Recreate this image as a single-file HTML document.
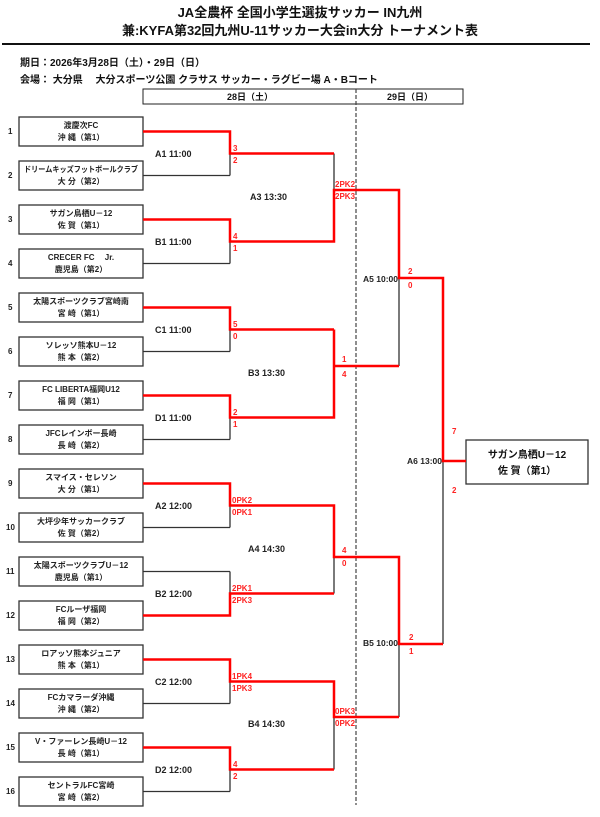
<!DOCTYPE html>
<html><head><meta charset="utf-8"><style>
html,body{margin:0;padding:0;background:#fff;}
svg{display:block;font-family:"Liberation Sans","Noto Sans CJK JP",sans-serif;}
.t{font-size:8px;font-weight:bold;fill:#222;text-anchor:middle;}
.n{font-size:8px;font-weight:bold;fill:#222;}
.g{font-size:9px;font-weight:bold;fill:#222;}
.s{font-size:8px;font-weight:bold;fill:#f22;}
.b{stroke:#333;stroke-width:1.3;fill:none;}
.r{stroke:#f00;stroke-width:2.5;fill:none;}
</style></head><body>
<svg width="600" height="817" viewBox="0 0 600 817">
<text x="300" y="17" font-size="13" font-weight="bold" text-anchor="middle" fill="#111">JA全農杯 全国小学生選抜サッカー IN九州</text>
<text x="300" y="35" font-size="13" font-weight="bold" text-anchor="middle" fill="#111">兼:KYFA第32回九州U-11サッカー大会in大分 トーナメント表</text>
<line x1="2" y1="44" x2="590" y2="44" stroke="#111" stroke-width="2"/>
<text x="20" y="66" font-size="10" font-weight="bold" fill="#111">期日：2026年3月28日（土）・29日（日）</text>
<text x="20" y="83" font-size="10" font-weight="bold" fill="#111">会場： 大分県　 大分スポーツ公園 クラサス サッカー・ラグビー場 A・Bコート</text>
<rect x="143" y="89" width="320" height="15" fill="none" stroke="#222" stroke-width="1"/>
<text x="250" y="100" font-size="9" font-weight="bold" text-anchor="middle" fill="#111">28日（土）</text>
<text x="410" y="100" font-size="9" font-weight="bold" text-anchor="middle" fill="#111">29日（日）</text>
<line x1="356" y1="89" x2="356" y2="805" stroke="#444" stroke-width="1.2" stroke-dasharray="4,2"/>

<g fill="none" stroke="#333" stroke-width="1.3">
<rect x="19" y="117" width="124" height="29"/><rect x="19" y="161" width="124" height="29"/>
<rect x="19" y="205" width="124" height="29"/><rect x="19" y="249" width="124" height="29"/>
<rect x="19" y="293" width="124" height="29"/><rect x="19" y="337" width="124" height="29"/>
<rect x="19" y="381" width="124" height="29"/><rect x="19" y="425" width="124" height="29"/>
<rect x="19" y="469" width="124" height="29"/><rect x="19" y="513" width="124" height="29"/>
<rect x="19" y="557" width="124" height="29"/><rect x="19" y="601" width="124" height="29"/>
<rect x="19" y="645" width="124" height="29"/><rect x="19" y="689" width="124" height="29"/>
<rect x="19" y="733" width="124" height="29"/><rect x="19" y="777" width="124" height="29"/>
<rect x="466" y="440" width="122" height="44"/>
</g>

<g>
<text class="n" x="8" y="134">1</text><text class="n" x="8" y="178">2</text><text class="n" x="8" y="222">3</text><text class="n" x="8" y="266">4</text>
<text class="n" x="8" y="310">5</text><text class="n" x="8" y="354">6</text><text class="n" x="8" y="398">7</text><text class="n" x="8" y="442">8</text>
<text class="n" x="8" y="486">9</text><text class="n" x="6" y="530">10</text><text class="n" x="6" y="574">11</text><text class="n" x="6" y="618">12</text>
<text class="n" x="6" y="662">13</text><text class="n" x="6" y="706">14</text><text class="n" x="6" y="750">15</text><text class="n" x="6" y="794">16</text>
</g>
<g>
<text class="t" x="81" y="128">渡慶次FC</text><text class="t" x="81" y="140">沖 縄（第1）</text>
<text class="t" x="81" y="172" font-size="7" textLength="114" lengthAdjust="spacingAndGlyphs">ドリームキッズフットボールクラブ</text><text class="t" x="81" y="184">大 分（第2）</text>
<text class="t" x="81" y="216">サガン鳥栖U－12</text><text class="t" x="81" y="228">佐 賀（第1）</text>
<text class="t" x="81" y="260">CRECER FC　 Jr.</text><text class="t" x="81" y="272">鹿児島（第2）</text>
<text class="t" x="81" y="304">太陽スポーツクラブ宮崎南</text><text class="t" x="81" y="316">宮 崎（第1）</text>
<text class="t" x="81" y="348">ソレッソ熊本U－12</text><text class="t" x="81" y="360">熊 本（第2）</text>
<text class="t" x="81" y="392">FC LIBERTA福岡U12</text><text class="t" x="81" y="404">福 岡（第1）</text>
<text class="t" x="81" y="436">JFCレインボー長崎</text><text class="t" x="81" y="448">長 崎（第2）</text>
<text class="t" x="81" y="480">スマイス・セレソン</text><text class="t" x="81" y="492">大 分（第1）</text>
<text class="t" x="81" y="524">大坪少年サッカークラブ</text><text class="t" x="81" y="536">佐 賀（第2）</text>
<text class="t" x="81" y="568">太陽スポーツクラブU－12</text><text class="t" x="81" y="580">鹿児島（第1）</text>
<text class="t" x="81" y="612">FCルーザ福岡</text><text class="t" x="81" y="624">福 岡（第2）</text>
<text class="t" x="81" y="656">ロアッソ熊本ジュニア</text><text class="t" x="81" y="668">熊 本（第1）</text>
<text class="t" x="81" y="700">FCカマラーダ沖縄</text><text class="t" x="81" y="712">沖 縄（第2）</text>
<text class="t" x="81" y="744">V・ファーレン長崎U－12</text><text class="t" x="81" y="756">長 崎（第1）</text>
<text class="t" x="81" y="788">セントラルFC宮崎</text><text class="t" x="81" y="800">宮 崎（第2）</text>
<text x="527" y="458" font-size="10" font-weight="bold" text-anchor="middle" fill="#111">サガン鳥栖U－12</text>
<text x="527" y="474" font-size="10" font-weight="bold" text-anchor="middle" fill="#111">佐 賀（第1）</text>
</g>

<path class="b" d="M143 131.5H230M143 175.5H230M143 219.5H230M143 263.5H230M143 307.5H230M143 351.5H230M143 395.5H230M143 439.5H230M143 483.5H230M143 527.5H230M143 571.5H230M143 615.5H230M143 659.5H230M143 703.5H230M143 747.5H230M143 791.5H230
M230 131.5V175.5M230 219.5V263.5M230 307.5V351.5M230 395.5V439.5M230 483.5V527.5M230 571.5V615.5M230 659.5V703.5M230 747.5V791.5
M334 153.5V241.5M334 329.5V417.5M334 505.5V593.5M334 681.5V769.5
M399 190V366M399 557V717M443 278V644"/>
<path class="r" d="M143 131.5H230V153.5H334M143 219.5H230V241.5H334V190H399V278H443V461H466
M143 307.5H230V329.5H334M143 395.5H230V417.5H334V329.5M334 366H399
M143 483.5H230V505.5H334V557H399V644H443M143 615.5H230V593.5H334
M143 659.5H230V681.5H334V717H399M143 747.5H230V769.5H334"/>

<g class="g">
<text x="155" y="157">A1 11:00</text><text x="155" y="245">B1 11:00</text>
<text x="155" y="333">C1 11:00</text><text x="155" y="421">D1 11:00</text>
<text x="155" y="509">A2 12:00</text><text x="155" y="597">B2 12:00</text>
<text x="155" y="685">C2 12:00</text><text x="155" y="773">D2 12:00</text>
<text x="250" y="200">A3 13:30</text><text x="248" y="376">B3 13:30</text>
<text x="248" y="552">A4 14:30</text><text x="248" y="727">B4 14:30</text>
<text x="398" y="282" text-anchor="end" font-size="8.5">A5 10:00</text>
<text x="398" y="646" text-anchor="end" font-size="8.5">B5 10:00</text>
<text x="442" y="464" text-anchor="end" font-size="8.5">A6 13:00</text>
</g>
<g class="s">
<text x="233" y="151">3</text><text x="233" y="163">2</text>
<text x="233" y="239">4</text><text x="233" y="251">1</text>
<text x="233" y="327">5</text><text x="233" y="339">0</text>
<text x="233" y="415">2</text><text x="233" y="427">1</text>
<text x="232" y="503">0PK2</text><text x="232" y="515">0PK1</text>
<text x="232" y="591">2PK1</text><text x="232" y="603">2PK3</text>
<text x="232" y="679">1PK4</text><text x="232" y="691">1PK3</text>
<text x="233" y="767">4</text><text x="233" y="779">2</text>
<text x="335" y="187">2PK2</text><text x="335" y="199">2PK3</text>
<text x="342" y="362">1</text><text x="342" y="377">4</text>
<text x="342" y="553">4</text><text x="342" y="566">0</text>
<text x="335" y="714">0PK3</text><text x="335" y="726">0PK2</text>
<text x="408" y="274">2</text><text x="408" y="288">0</text>
<text x="409" y="640">2</text><text x="409" y="654">1</text>
<text x="452" y="434">7</text><text x="452" y="493">2</text>
</g>
</svg>
</body></html>
